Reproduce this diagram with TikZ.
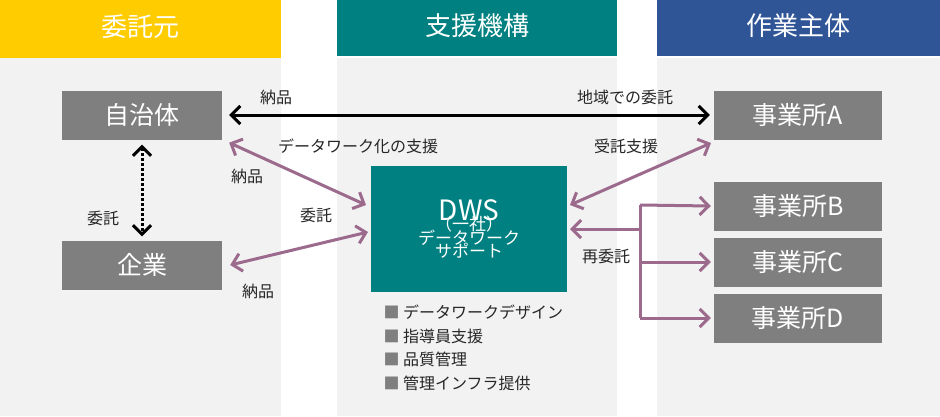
\documentclass[tikz,border=0pt]{standalone}
\usepackage{fontspec}
\setmainfont{Noto Sans CJK JP}
\usetikzlibrary{arrows.meta}
\definecolor{hy}{HTML}{FFCC00}
\definecolor{ht}{HTML}{008080}
\definecolor{hb}{HTML}{2F5597}
\definecolor{pg}{HTML}{F2F2F2}
\definecolor{bx}{HTML}{7F7F7F}
\definecolor{pu}{HTML}{9B6A8C}
\tikzset{
 hdr/.style={text=white,font=\fontsize{26}{28}\selectfont,anchor=center},
 gbox/.style={fill=bx,text=white,font=\fontsize{25}{28}\selectfont,minimum width=160pt,minimum height=49pt,inner sep=0pt},
 lab/.style={font=\fontsize{16}{18}\selectfont,text=black!85},
 barb/.tip={Straight Barb[length=9pt,width=18pt,line width=3pt]},
 parr/.style={pu,line width=3pt,arrows={barb-barb}},
 parr1/.style={pu,line width=3pt,arrows={-barb}},
}
\begin{document}
\begin{tikzpicture}[x=1pt,y=-1pt]
\useasboundingbox (0,0) rectangle (940,416);
\fill[white] (0,0) rectangle (940,416);
\fill[pg] (0,58) rectangle (281,416);
\fill[pg] (337,58) rectangle (617,416);
\fill[pg] (657,58) rectangle (940,416);
\fill[hy] (0,0) rectangle (281,58);
\fill[ht] (337,0) rectangle (617,56);
\fill[hb] (657,0) rectangle (940,56);
\node[hdr] (h1) at (140,27) {委託元};
\node[hdr] (h2) at (477,26) {支援機構};
\node[hdr] (h3) at (798,26) {作業主体};
\node[gbox] (jt) at (142,115) {自治体};
\node[gbox] (kg) at (142,265) {企業};
\node[fill=ht,text=white,minimum width=196pt,minimum height=126pt,inner sep=0pt,align=center] (dws) at (469,229)
 {\fontsize{28}{32}\selectfont DWS\\[-6pt]\fontsize{17}{24}\selectfont （一社）\\[-3pt]\fontsize{17}{24}\selectfont データワーク\\[-3pt]\fontsize{17}{24}\selectfont サポート};
\node[gbox,minimum width=168pt] (a) at (798,115) {事業所A};
\node[gbox,minimum width=168pt] (b) at (798,206) {事業所B};
\node[gbox,minimum width=168pt] (c) at (798,262) {事業所C};
\node[gbox,minimum width=168pt] (d) at (798,318) {事業所D};
\draw[line width=3pt,arrows={barb-barb}] ([xshift=7pt]jt.east) -- ([xshift=-4pt]a.west);
\draw[line width=3pt,dotted,arrows={barb-barb}] ([yshift=-5pt]jt.south) -- ([yshift=4pt]kg.north);
\draw[parr] ([xshift=7pt,yshift=-3pt]jt.south east) -- (366,205);
\draw[parr] ([xshift=8pt]kg.east) -- (368,232);
\draw[parr] (570,205) -- (711,143);
\coordinate (tr) at (640,229);
\draw[parr1] (tr) -- (570,229);
\draw[parr1] (640,205) -- ([xshift=-3pt]b.west);
\draw[pu,line width=3pt] (640,205) -- (640,318);
\draw[parr1] (640,262) -- ([xshift=-3pt]c.west);
\draw[parr1] (640,318) -- ([xshift=-3pt]d.west);
\node[lab] (l1) at (276,97) {納品};
\node[lab] (l2) at (625,97) {地域での委託};
\node[lab] (l3) at (358,146) {データワーク化の支援};
\node[lab] (l4) at (626,146) {受託支援};
\node[lab] (l5) at (247,176) {納品};
\node[lab] (l6) at (316,215) {委託};
\node[lab] (l7) at (258,291) {納品};
\node[lab] (l8) at (103,218) {委託};
\node[lab] (l9) at (606,256) {再委託};
\node[lab,anchor=west,align=left,font=\fontsize{16}{23.5}\selectfont] (lst) at (380,348) {{\color{bx}■}\ データワークデザイン\\{\color{bx}■}\ 指導員支援\\{\color{bx}■}\ 品質管理\\{\color{bx}■}\ 管理インフラ提供};
\end{tikzpicture}
\end{document}
